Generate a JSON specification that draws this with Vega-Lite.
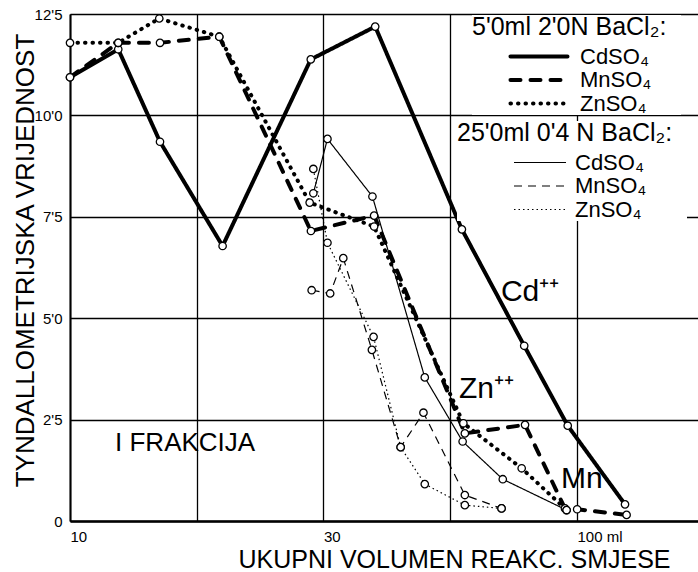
{
  "$schema": "https://vega.github.io/schema/vega-lite/v6.json",
  "width": 628,
  "height": 507,
  "autosize": {"type": "none"},
  "padding": {"left": 70, "top": 14, "right": 0, "bottom": 51},
  "background": "white",
  "config": {"view": {"stroke": null}, "font": "Liberation Sans"},
  "datasets": {
    "thick": [
      {"salt": "CdSO₄", "vol": 10, "val": 10.94},
      {"salt": "CdSO₄", "vol": 12.45, "val": 11.63},
      {"salt": "CdSO₄", "vol": 15.05, "val": 9.35},
      {"salt": "CdSO₄", "vol": 20.0, "val": 6.78},
      {"salt": "CdSO₄", "vol": 29.85, "val": 11.38},
      {"salt": "CdSO₄", "vol": 40.0, "val": 12.19},
      {"salt": "CdSO₄", "vol": 59.3, "val": 7.19},
      {"salt": "CdSO₄", "vol": 78.7, "val": 4.32},
      {"salt": "CdSO₄", "vol": 95.9, "val": 2.35},
      {"salt": "CdSO₄", "vol": 124.4, "val": 0.41},
      {"salt": "MnSO₄", "vol": 10, "val": 10.94},
      {"salt": "MnSO₄", "vol": 12.45, "val": 11.79},
      {"salt": "MnSO₄", "vol": 15.05, "val": 11.79},
      {"salt": "MnSO₄", "vol": 19.7, "val": 11.94},
      {"salt": "MnSO₄", "vol": 29.87, "val": 7.15},
      {"salt": "MnSO₄", "vol": 39.8, "val": 7.53},
      {"salt": "MnSO₄", "vol": 60.1, "val": 2.16},
      {"salt": "MnSO₄", "vol": 79.0, "val": 2.37},
      {"salt": "MnSO₄", "vol": 94.7, "val": 0.31},
      {"salt": "MnSO₄", "vol": 100.1, "val": 0.29},
      {"salt": "MnSO₄", "vol": 125.3, "val": 0.15},
      {"salt": "ZnSO₄", "vol": 10, "val": 11.79},
      {"salt": "ZnSO₄", "vol": 12.45, "val": 11.79},
      {"salt": "ZnSO₄", "vol": 15.0, "val": 12.39},
      {"salt": "ZnSO₄", "vol": 19.7, "val": 11.94},
      {"salt": "ZnSO₄", "vol": 29.7, "val": 7.85},
      {"salt": "ZnSO₄", "vol": 39.8, "val": 7.26},
      {"salt": "ZnSO₄", "vol": 59.7, "val": 2.41},
      {"salt": "ZnSO₄", "vol": 77.8, "val": 1.30},
      {"salt": "ZnSO₄", "vol": 95.4, "val": 0.27}
    ],
    "thin": [
      {"salt": "CdSO₄", "vol": 30.2, "val": 8.08},
      {"salt": "CdSO₄", "vol": 32.2, "val": 9.42},
      {"salt": "CdSO₄", "vol": 39.5, "val": 8.00},
      {"salt": "CdSO₄", "vol": 50.1, "val": 3.54},
      {"salt": "CdSO₄", "vol": 59.5, "val": 1.96},
      {"salt": "CdSO₄", "vol": 71.4, "val": 1.03},
      {"salt": "CdSO₄", "vol": 95.4, "val": 0.27},
      {"salt": "MnSO₄", "vol": 29.97, "val": 5.69},
      {"salt": "MnSO₄", "vol": 32.6, "val": 5.61},
      {"salt": "MnSO₄", "vol": 34.6, "val": 6.48},
      {"salt": "MnSO₄", "vol": 39.4, "val": 4.22},
      {"salt": "MnSO₄", "vol": 44.9, "val": 1.82},
      {"salt": "MnSO₄", "vol": 49.8, "val": 2.67},
      {"salt": "MnSO₄", "vol": 60.1, "val": 0.64},
      {"salt": "MnSO₄", "vol": 71.0, "val": 0.31},
      {"salt": "ZnSO₄", "vol": 30.2, "val": 8.68},
      {"salt": "ZnSO₄", "vol": 32.2, "val": 6.86},
      {"salt": "ZnSO₄", "vol": 39.7, "val": 4.54},
      {"salt": "ZnSO₄", "vol": 44.9, "val": 1.82},
      {"salt": "ZnSO₄", "vol": 50.1, "val": 0.91},
      {"salt": "ZnSO₄", "vol": 60.1, "val": 0.39},
      {"salt": "ZnSO₄", "vol": 71.0, "val": 0.31}
    ],
    "ions": [
      {"text": "Cd⁺⁺", "vol": 70.8, "val": 5.42},
      {"text": "Zn⁺⁺", "vol": 58.5, "val": 3.03},
      {"text": "Mn", "vol": 93.0, "val": 0.81}
    ],
    "notes": [
      {"text": "I FRAKCIJA", "vol": 12.27, "val": 1.73}
    ]
  },
  "layer": [
    {
      "data": {"name": "thick"},
      "mark": {"type": "line", "color": "black", "strokeWidth": 4, "strokeCap": "round", "strokeJoin": "round"},
      "encoding": {
        "x": {
          "field": "vol", "type": "quantitative",
          "scale": {"type": "log", "domain": [10, 173.3], "nice": false},
          "axis": {
            "values": [10, 17.7828, 31.6228, 56.2341, 100],
            "labelExpr": "datum.value < 11 ? '10' : (datum.value > 31 && datum.value < 32) ? '30' : datum.value > 99 ? '100 ml' : ''",
            "grid": true, "gridColor": "black", "gridWidth": 1.3, "gridOpacity": 1,
            "ticks": false,
            "domainColor": "black", "domainWidth": 2.5,
            "labelFontSize": 15, "labelColor": "black", "labelAlign": "left", "labelDx": -10,
            "labelPadding": 8, "labelFlush": false, "labelOverlap": false,
            "title": "UKUPNI VOLUMEN REAKC. SMJESE",
            "titleFontSize": 25, "titleFontWeight": "normal", "titleColor": "black",
            "titleX": 384, "titleY": 26, "titleAlign": "center", "titleBaseline": "top"
          }
        },
        "y": {
          "field": "val", "type": "quantitative",
          "scale": {"domain": [0, 12.5], "nice": false},
          "axis": {
            "values": [0, 2.5, 5, 7.5, 10, 12.5],
            "labelExpr": "datum.value == 0 ? '0' : replace(format(datum.value, '.1f'), '.', \"'\")",
            "grid": true, "gridColor": "black", "gridWidth": 1.3, "gridOpacity": 1,
            "ticks": false,
            "domainColor": "black", "domainWidth": 2,
            "labelFontSize": 15, "labelColor": "black", "labelPadding": 8,
            "title": "TYNDALLOMETRIJSKA VRIJEDNOST",
            "titleFontSize": 26, "titleFontWeight": "normal", "titleColor": "black",
            "titleX": -45, "titleY": 246, "titleAngle": -90, "titleAlign": "center", "titleBaseline": "middle"
          }
        },
        "strokeDash": {
          "field": "salt", "type": "nominal",
          "scale": {"domain": ["CdSO₄", "MnSO₄", "ZnSO₄"], "range": [[1, 0], [10, 10], [0.5, 7]]},
          "legend": {
            "title": "5'0ml  2'0N  BaCl₂:",
            "orient": "none", "legendX": 402, "legendY": 1,
            "titleFontSize": 25, "titleFontWeight": "normal", "titleColor": "black", "titlePadding": 5, "titleLimit": 400,
            "labelFontSize": 22, "labelColor": "black", "labelLimit": 200,
            "symbolType": "stroke", "symbolSize": 3250, "symbolStrokeWidth": 4, "symbolStrokeColor": "black",
            "symbolOffset": 36, "labelOffset": 10, "clipHeight": 23, "rowPadding": 0.5, "padding": 0,
            "fillColor": "white",
            "encode": {"symbols": {"update": {"strokeCap": {"value": "round"}}}}
          }
        }
      }
    },
    {
      "data": {"name": "thin"},
      "mark": {"type": "line", "color": "black", "strokeWidth": 1.2, "strokeJoin": "round"},
      "encoding": {
        "x": {"field": "vol", "type": "quantitative"},
        "y": {"field": "val", "type": "quantitative"},
        "strokeDash": {
          "field": "salt", "type": "nominal",
          "scale": {"domain": ["CdSO₄", "MnSO₄", "ZnSO₄"], "range": [[1, 0], [8, 6], [1.5, 3]]},
          "legend": {
            "title": "25'0ml  0'4 N  BaCl₂:",
            "orient": "none", "legendX": 387, "legendY": 107,
            "titleFontSize": 25, "titleFontWeight": "normal", "titleColor": "black", "titlePadding": 5, "titleLimit": 400,
            "labelFontSize": 22, "labelColor": "black", "labelLimit": 200,
            "symbolType": "stroke", "symbolSize": 2704, "symbolStrokeWidth": 1.2, "symbolStrokeColor": "black",
            "symbolOffset": 56, "labelOffset": 8, "clipHeight": 23, "rowPadding": 0.5, "padding": 0,
            "fillColor": "white"
          }
        }
      }
    },
    {
      "data": {"name": "thick"},
      "mark": {"type": "point", "shape": "circle", "filled": true, "fill": "white", "stroke": "black", "strokeWidth": 1.3, "size": 55, "opacity": 1},
      "encoding": {
        "x": {"field": "vol", "type": "quantitative"},
        "y": {"field": "val", "type": "quantitative"}
      }
    },
    {
      "data": {"name": "thin"},
      "mark": {"type": "point", "shape": "circle", "filled": true, "fill": "white", "stroke": "black", "strokeWidth": 1.3, "size": 55, "opacity": 1},
      "encoding": {
        "x": {"field": "vol", "type": "quantitative"},
        "y": {"field": "val", "type": "quantitative"}
      }
    },
    {
      "data": {"name": "ions"},
      "mark": {"type": "text", "align": "left", "baseline": "alphabetic", "fontSize": 30, "color": "black"},
      "encoding": {
        "x": {"field": "vol", "type": "quantitative"},
        "y": {"field": "val", "type": "quantitative"},
        "text": {"field": "text"}
      }
    },
    {
      "data": {"name": "notes"},
      "mark": {"type": "text", "align": "left", "baseline": "alphabetic", "fontSize": 26, "color": "black"},
      "encoding": {
        "x": {"field": "vol", "type": "quantitative"},
        "y": {"field": "val", "type": "quantitative"},
        "text": {"field": "text"}
      }
    }
  ],
  "resolve": {"scale": {"strokeDash": "independent"}}
}
